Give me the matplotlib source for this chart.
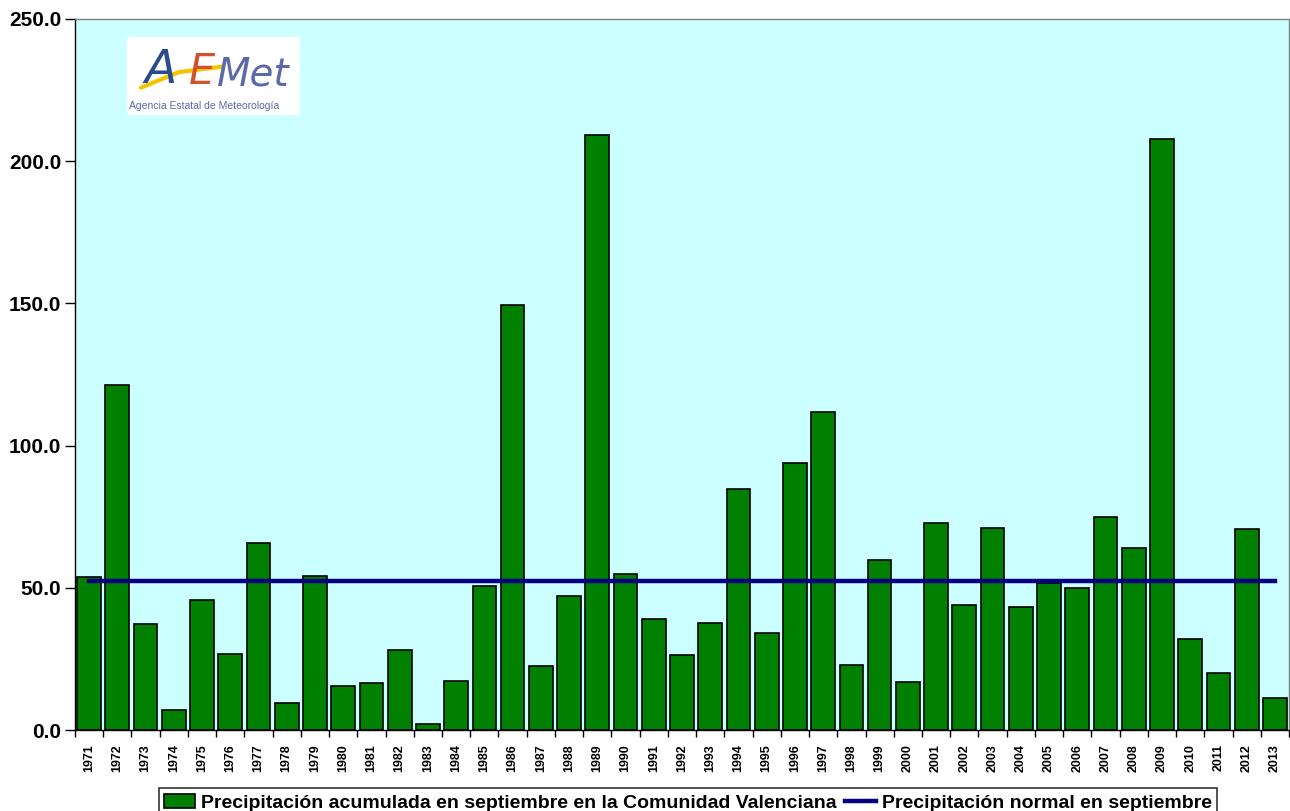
import matplotlib
matplotlib.use("Agg")
import matplotlib.pyplot as plt
import numpy as np
from matplotlib.patches import Rectangle

years = [str(y) for y in range(1971, 2014)]
precip = [53.9, 121.3, 37.2, 7.1, 45.8, 26.8, 65.8, 9.5, 54.3, 15.6,
          16.5, 28.2, 2.2, 17.2, 50.5, 149.4, 22.5, 47.2, 209.2, 54.7,
          39.0, 26.3, 37.5, 84.7, 34.1, 93.9, 111.8, 22.9, 59.8, 16.8,
          72.8, 43.8, 71.0, 43.4, 51.8, 49.8, 74.9, 64.0, 207.8, 32.1,
          19.9, 70.7, 11.3]
normal = 52.5
yticks = [0, 50, 100, 150, 200, 250]

plt.rcParams['font.family'] = ['Liberation Sans', 'DejaVu Sans']

fig = plt.figure(figsize=(12.9, 8.11), dpi=100)
ax = fig.add_axes([75/1290, 1-730/811, 1214/1290, 711/811])
ax.set_facecolor('#CCFFFF')

x = np.arange(len(years))
bars = ax.bar(x, precip, width=0.84, color='#008000', edgecolor='black',
              linewidth=1.2, zorder=2,
              label='Precipitación acumulada en septiembre en la Comunidad Valenciana')
line, = ax.plot(x, [normal]*len(x), color='#000080', linewidth=3.2, zorder=3,
                label='Precipitación normal en septiembre')

ax.set_xlim(-0.5, len(years)-0.5)
ax.set_ylim(0, 250)
ax.set_yticks(yticks)
ax.set_yticklabels([f"{v:.1f}" for v in yticks], fontsize=15, fontweight='bold')
ax.tick_params(axis='y', direction='out', length=7, width=1, pad=3)

ax.set_xticks(x)
ax.set_xticklabels(years, rotation=90, fontsize=9, fontweight='bold')
ax.tick_params(axis='x', which='major', length=0, pad=10)
ax.set_xticks(np.arange(-0.5, len(years), 1), minor=True)
ax.tick_params(axis='x', which='minor', direction='out', length=5, width=1)

for s in ['left', 'bottom']:
    ax.spines[s].set_color('black')
    ax.spines[s].set_linewidth(1)
for s in ['top', 'right']:
    ax.spines[s].set_color('#808080')
    ax.spines[s].set_linewidth(1)

leg = fig.legend(handles=[bars, line], loc='lower center',
                 bbox_to_anchor=(688/1290, -0.008), ncol=2, frameon=True,
                 fancybox=False, edgecolor='black',
                 prop={'weight': 'bold', 'size': 14},
                 handlelength=1.6, handletextpad=0.3, columnspacing=0.4,
                 borderpad=0.3, borderaxespad=0)
leg.get_frame().set_linewidth(1.2)

# Logo approximation
lx0, ly0, lw, lh = 127/1290, 1-115/811, 173/1290, 78/811
logo_ax = fig.add_axes([lx0, ly0, lw, lh])
logo_ax.set_xlim(0, 1)
logo_ax.set_ylim(0, 1)
logo_ax.axis('off')
logo_ax.add_patch(Rectangle((0, 0), 1, 1, facecolor='white', edgecolor='none'))
logo_ax.text(0.10, 0.28, 'A', color='#2B4C8C', fontsize=34, style='italic',
             family='DejaVu Sans', fontweight='light', va='bottom')
logo_ax.text(0.36, 0.28, 'E', color='#D2502A', fontsize=30, style='italic',
             family='DejaVu Sans', va='bottom')
logo_ax.text(0.52, 0.28, 'Met', color='#5B6AA8', fontsize=28, style='italic',
             family='DejaVu Sans', va='bottom')
logo_ax.plot([0.08, 0.3, 0.55], [0.35, 0.55, 0.62], color='#F5C400', lw=3,
             solid_capstyle='round')
logo_ax.text(0.01, 0.05, 'Agencia Estatal de Meteorología', color='#5B6AA8',
             fontsize=7.5, va='bottom')

fig.savefig('out.png', dpi=100)
